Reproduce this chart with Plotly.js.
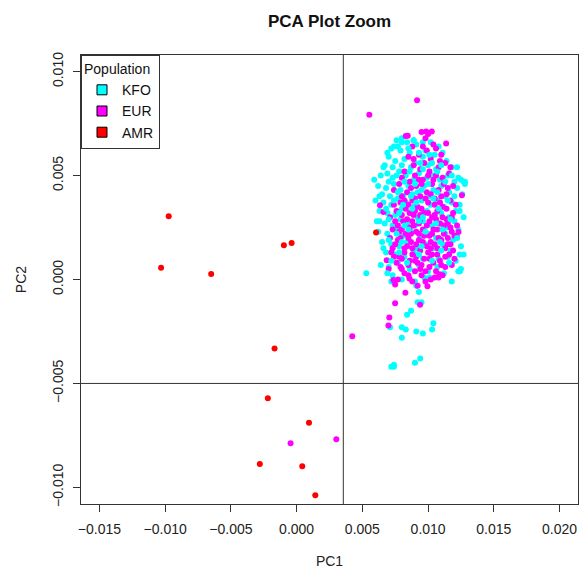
<!DOCTYPE html>
<html><head><meta charset="utf-8">
<script src="https://cdn.plot.ly/plotly-3.0.1.min.js"></script>
<style>html,body{margin:0;padding:0;background:#fff}#plot{width:586px;height:569px}</style>
</head><body><div id="plot"></div>
<script>
// ---- data ----
const populations = ["KFO", "EUR", "AMR"];
const popColors = ["#00FFFF", "#FF00FF", "#FF0000"];

const kfoPC1 = [
0.0080,0.0089,0.0096,0.0076,0.0084,0.0091,0.0102,0.0108,0.0072,0.0079,0.0086,0.0098,0.0105,0.0111,0.0070,0.0075,0.0082,0.0090,0.0096,0.0100,0.0114,0.0118,0.0067,0.0087,0.0106,
0.0064,0.0069,0.0073,0.0078,0.0083,0.0089,0.0093,0.0099,0.0103,0.0109,0.0115,0.0120,0.0125,0.0128,0.0062,0.0068,0.0074,0.0079,0.0085,0.0092,0.0097,0.0104,0.0110,0.0116,0.0122,0.0065,0.0071,0.0081,0.0088,0.0101,0.0113,0.0126,
0.0060,0.0066,0.0072,0.0077,0.0083,0.0089,0.0095,0.0102,0.0107,0.0112,0.0118,0.0124,0.0063,0.0069,0.0075,0.0080,0.0086,0.0092,0.0099,0.0105,0.0110,0.0116,0.0121,0.0127,0.0061,0.0067,0.0073,0.0079,0.0084,0.0090,0.0096,0.0103,0.0109,0.0114,0.0120,
0.0062,0.0069,0.0076,0.0081,0.0087,0.0094,0.0100,0.0106,0.0113,0.0119,0.0123,0.0065,0.0072,0.0078,0.0084,0.0091,0.0098,0.0104,0.0111,0.0117,0.0125,0.0068,0.0075,0.0082,0.0089,0.0096,0.0102,0.0108,0.0115,0.0121,
0.0064,0.0070,0.0077,0.0086,0.0093,0.0100,0.0107,0.0112,0.0124,0.0073,0.0080,0.0090,0.0097,0.0118,0.0125,
0.0124,0.0101,0.0053,0.0072,0.0091,0.0093,0.0127,0.0123,0.0092,0.0095,0.0087,0.0084,0.0071,0.0080,0.0083,0.0080,0.0091,0.0096,0.0103,0.0104,0.0072,0.0074,0.0074,0.0090,0.0094,
0.0063,0.0063,0.0059,0.0066,0.0069,0.0074,0.0080,0.0089,0.0122,0.0127,0.0128,
0.0077,0.0085,0.0093,0.0101,0.0073,0.0080,0.0094,0.0103,0.0110,0.0076,0.0086,0.0096,0.0107,0.0118,0.0070,0.0082,0.0090,0.0100,0.0113,0.0123,
0.0077,0.0087,0.0095,0.0107,0.0120,0.0074,0.0081,0.0091,0.0104,0.0115,0.0068,0.0078,0.0088,0.0096,0.0108,0.0124,0.0070,0.0082,0.0093,0.0106,
0.0117,0.0076,0.0085,0.0098,0.0111,0.0122,0.0070,0.0080,0.0095,0.0109,0.0066,0.0078,0.0093,0.0110,0.0124,0.0072,0.0084,0.0103,0.0116,0.0069
];
const kfoPC2 = [
0.0068,0.0067,0.0066,0.0067,0.0066,0.0065,0.0066,0.0064,0.0063,0.0062,0.0061,0.0062,0.0060,0.0061,0.0059,0.0057,0.0058,0.0056,0.0059,0.0055,0.0057,0.0054,0.0055,0.0054,0.0053,
0.0050,0.0051,0.0049,0.0052,0.0050,0.0048,0.0051,0.0049,0.0050,0.0048,0.0050,0.0047,0.0048,0.0046,0.0045,0.0044,0.0046,0.0043,0.0045,0.0042,0.0045,0.0043,0.0045,0.0042,0.0044,0.0041,0.0040,0.0040,0.0041,0.0040,0.0040,0.0041,
0.0038,0.0037,0.0036,0.0039,0.0037,0.0035,0.0038,0.0036,0.0038,0.0035,0.0037,0.0036,0.0033,0.0032,0.0031,0.0034,0.0032,0.0030,0.0033,0.0031,0.0032,0.0030,0.0033,0.0030,0.0028,0.0027,0.0026,0.0029,0.0027,0.0026,0.0028,0.0026,0.0027,0.0025,0.0028,
0.0023,0.0022,0.0024,0.0021,0.0023,0.0020,0.0022,0.0020,0.0022,0.0019,0.0024,0.0018,0.0017,0.0016,0.0018,0.0015,0.0017,0.0015,0.0017,0.0014,0.0016,0.0013,0.0012,0.0011,0.0013,0.0010,0.0012,0.0010,0.0011,0.0009,
0.0007,0.0006,0.0008,0.0005,0.0007,0.0004,0.0006,0.0003,0.0004,0.0002,0.0000,-0.0001,0.0001,-0.0001,0.0005,
0.0004,0.0001,0.0003,-0.0001,-0.0003,-0.0006,0.0012,0.0004,-0.0011,-0.0011,-0.0015,-0.0017,-0.0023,-0.0023,-0.0024,-0.0028,-0.0025,-0.0026,-0.0024,-0.0021,-0.0042,-0.0042,-0.0041,-0.0040,-0.0038,
0.0028,0.0040,0.0048,0.0054,0.0061,0.0064,0.0066,0.0067,0.0054,0.0047,0.0047,
0.0064,0.0063,0.0061,0.0060,0.0054,0.0055,0.0056,0.0056,0.0055,0.0050,0.0052,0.0053,0.0052,0.0050,0.0047,0.0047,0.0046,0.0046,0.0047,0.0049,
0.0042,0.0040,0.0043,0.0042,0.0040,0.0038,0.0036,0.0037,0.0039,0.0038,0.0034,0.0032,0.0034,0.0030,0.0034,0.0033,0.0029,0.0026,0.0028,0.0027,
0.0029,0.0022,0.0024,0.0023,0.0024,0.0020,0.0019,0.0018,0.0016,0.0018,0.0015,0.0013,0.0012,0.0014,0.0012,0.0009,0.0008,0.0009,0.0008,0.0003
];
// KFO samples listed from this index onward are plotted after (on top of) EUR
const kfoDrawnLastFrom = 173;

const eurPC1 = [
0.00916,0.00553,0.0083,0.0095,0.0100,0.0098,0.0104,0.0088,0.0099,0.0110,
0.0106,0.0093,0.0085,0.0102,0.0113,0.0097,0.0108,0.0089,0.0094,0.0101,
0.0116,0.0082,0.0090,0.0106,0.0111,0.0096,0.0086,0.0103,0.0119,0.0091,
0.0078,0.0108,0.0099,0.0084,0.0114,0.0074,0.0094,0.0105,0.0088,0.0117,
0.0079,0.0100,0.0092,0.0111,0.0083,0.0107,0.0076,0.0097,0.0119,0.0089,
0.0103,0.0071,0.0114,0.0094,0.0081,0.0109,0.0077,0.0099,0.0086,0.0117,
0.0104,0.0073,0.0091,0.0112,0.0083,0.0097,0.0108,0.0079,0.0120,0.0093,
0.0102,0.0087,0.0115,0.0075,0.0099,0.0082,0.0107,0.0119,0.0094,0.0072,
0.0103,0.0088,0.0113,0.0080,0.0097,0.0109,0.0076,0.0092,0.0118,0.0085,
0.0101,0.0070,0.0090,0.0106,0.0082,0.0111,0.0095,0.0077,0.0088,0.0102,
0.00736,0.00749,0.00827,0.00749,0.00705,0.00698,0.00423,0.00995,0.01086,0.00939,0.00858,
0.00845,0.00985,0.01028,0.01137,
0.00634,0.0066,0.00685,0.01257,0.01231,0.01219,
-0.00046,0.00302,
0.0087,0.0095,0.0104,0.0112,0.0080,0.0090,0.0102,0.0110,0.0085,0.0095,
0.0105,0.0114,0.0080,0.0090,0.0100,0.0111,0.0084,0.0093,0.0106,0.0115,
0.0080,0.0089,0.0096,0.0107,0.0118,0.0085,0.0093,0.0101,0.0110,0.0077,
0.0088,0.0096,0.0105,0.0113,0.0082,0.0091,0.0100,0.0107,0.0116,0.0086,
0.0095,0.0104,0.0113,0.0079,0.0098,0.0108,0.0085,0.0092,0.0074,0.0071,
0.0089,0.0096,0.0109,0.0117,0.0080,0.0093,0.0100,0.0115,0.0121,0.0082,
0.0098,0.0109,0.0074,0.0086,0.0094,0.0105,0.0118,0.0075,0.0088,0.0101,
0.0112,0.0122,0.0078,0.0087,0.0103,0.0115,0.0073,0.0084,0.0091,0.0102,
0.0117,0.0078,0.0090,0.0101,0.0110,0.0120,0.0080,0.0094,0.0105,0.0098
];
const eurPC2 = [
0.00862,0.00793,0.0069,0.0071,0.0070,0.0068,0.0065,0.0064,0.0062,0.0060,
0.0063,0.0060,0.0059,0.0058,0.0056,0.0056,0.0054,0.0055,0.0053,0.0052,
0.0051,0.0052,0.0050,0.0050,0.0049,0.0048,0.0047,0.0046,0.0045,0.0045,
0.0046,0.0043,0.0042,0.0042,0.0041,0.0043,0.0040,0.0039,0.0038,0.0038,
0.0037,0.0037,0.0035,0.0035,0.0034,0.0033,0.0033,0.0032,0.0032,0.0031,
0.0030,0.0030,0.0029,0.0029,0.0028,0.0027,0.0026,0.0026,0.0025,0.0025,
0.0024,0.0024,0.0023,0.0022,0.0022,0.0021,0.0020,0.0020,0.0021,0.0019,
0.0018,0.0018,0.0017,0.0017,0.0016,0.0015,0.0015,0.0014,0.0014,0.0013,
0.0012,0.0012,0.0011,0.0010,0.0010,0.0009,0.0008,0.0008,0.0007,0.0007,
0.0006,0.0005,0.0004,0.0004,0.0003,0.0002,0.0002,0.0000,-0.0001,0.0000,
-0.00003,-0.00024,-0.00064,-0.00114,-0.00183,-0.00221,-0.00273,-0.00032,0.00025,-0.00122,0.00005,
0.00692,0.00712,0.00712,0.00654,
0.00357,0.00325,0.00093,0.00405,0.00229,0.00205,
-0.00788,-0.00769,
0.0044,0.0046,0.0048,0.0046,0.0040,0.0039,0.0041,0.0040,0.0036,0.0034,
0.0036,0.0034,0.0031,0.0033,0.0032,0.0030,0.0029,0.0027,0.0029,0.0027,
0.0024,0.0026,0.0024,0.0024,0.0023,0.0020,0.0022,0.0021,0.0019,0.0019,
0.0015,0.0018,0.0017,0.0015,0.0013,0.0011,0.0013,0.0012,0.0012,0.0009,
0.0007,0.0008,0.0006,0.0006,0.0004,0.0001,0.0002,-0.0003,0.0011,0.0020,
0.0058,0.0064,0.0057,0.0054,0.0049,0.0048,0.0050,0.0044,0.0036,0.0038,
0.0039,0.0037,0.0036,0.0032,0.0031,0.0031,0.0030,0.0028,0.0028,0.0028,
0.0026,0.0026,0.0023,0.0022,0.0022,0.0020,0.0015,0.0016,0.0017,0.0015,
0.0017,0.0011,0.0009,0.0010,0.0007,0.0010,0.0005,0.0005,0.0001,-0.0001
];

const amrPC1 = [-0.00973,-0.01031,-0.00650,-0.00097,-0.00038,-0.00168,-0.00219,0.00094,-0.00280,0.00043,0.00142,0.00604];
const amrPC2 = [0.00304,0.00056,0.00027,0.00165,0.00176,-0.00332,-0.00571,-0.00689,-0.00888,-0.00898,-0.01038,0.00226];

const xTicks = [-0.015,-0.010,-0.005,0.000,0.005,0.010,0.015,0.020];
const yTicks = [-0.010,-0.005,0.000,0.005,0.010];
const xLim = [-0.015, 0.020];
const yLim = [-0.010, 0.010];
const cutPC1 = 0.00355;
const cutPC2 = -0.005;

// ---- build ----
const ext = (l) => { const d = (l[1]-l[0])*0.04; return [l[0]-d, l[1]+d]; };
const FONT = "Liberation Sans, Arial, sans-serif";
const pts = (xs, ys, color, name) => ({x:xs, y:ys, type:"scatter", mode:"markers", name:name, showlegend:false,
  marker:{color:color, size:6, line:{width:0}}});
const traces = [
  pts(kfoPC1.slice(0,kfoDrawnLastFrom), kfoPC2.slice(0,kfoDrawnLastFrom), popColors[0], populations[0]),
  pts(eurPC1, eurPC2, popColors[1], populations[1]),
  pts(kfoPC1.slice(kfoDrawnLastFrom), kfoPC2.slice(kfoDrawnLastFrom), popColors[0], populations[0]),
  pts(amrPC1, amrPC2, popColors[2], populations[2])
];
populations.forEach((p,i) => {
  traces.push({x:[null], y:[null], type:"scatter", mode:"markers", name:p, showlegend:true,
    marker:{color:popColors[i], symbol:"square", size:10, line:{color:"#000", width:1}}});
});

const axisCommon = {showgrid:false, zeroline:false, showline:true, mirror:true, linecolor:"#333", linewidth:1,
  ticks:"outside", ticklen:7, tickcolor:"#333", tickwidth:1, tickfont:{family:FONT, size:14, color:"#222"},
  tickformat:".3f", fixedrange:true};

const layout = {
  width:586, height:569, paper_bgcolor:"#fff", plot_bgcolor:"#fff",
  margin:{l:81, r:8, t:55, b:65},
  font:{family:FONT, color:"#000"},
  title:{text:"<b>PCA Plot Zoom</b>", x:0.5, xref:"paper", xanchor:"center", y:1-21/569, yref:"container", yanchor:"middle",
    font:{family:FONT, size:17, color:"#111"}},
  xaxis:Object.assign({}, axisCommon, {range:ext(xLim), tickmode:"array", tickvals:xTicks, ticklabelstandoff:5,
    title:{text:"PC1", standoff:22, font:{family:FONT, size:14, color:"#222"}}}),
  yaxis:Object.assign({}, axisCommon, {range:ext(yLim), tickmode:"array", tickvals:yTicks, tickangle:-90, ticklabelstandoff:4,
    title:{text:"PC2", standoff:20, font:{family:FONT, size:14, color:"#222"}}}),
  shapes:[
    {type:"line", xref:"x", yref:"paper", x0:cutPC1, x1:cutPC1, y0:0, y1:1, line:{color:"#333", width:1}},
    {type:"line", xref:"paper", yref:"y", x0:0, x1:1, y0:cutPC2, y1:cutPC2, line:{color:"#333", width:1}}
  ],
  legend:{x:0, y:1, xanchor:"left", yanchor:"top", bgcolor:"#fff", bordercolor:"#333", borderwidth:1,
    font:{family:FONT, size:14, color:"#111"}, title:{text:"Population", font:{family:FONT, size:14, color:"#111"}},
    itemsizing:"trace", tracegroupgap:0}
};
Plotly.newPlot("plot", traces, layout, {displayModeBar:false, staticPlot:true});
</script></body></html>
